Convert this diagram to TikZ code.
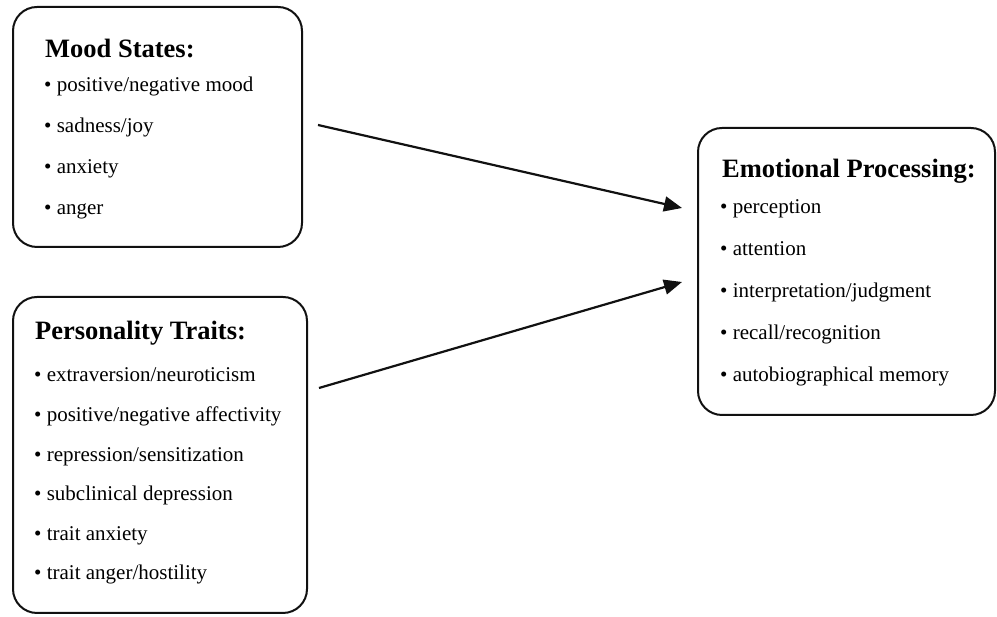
\documentclass[tikz,border=0pt]{standalone}
\usepackage{fontspec}
\setmainfont{Liberation Serif}
\usetikzlibrary{arrows.meta,positioning,calc}
\definecolor{ink}{HTML}{111111}

\begin{document}
\begin{tikzpicture}[x=1pt,y=1pt,
 panel/.style={draw=ink,line width=2pt,rounded corners=24pt,inner sep=0pt},
 heading/.style={anchor=base west,inner sep=0pt,font=\fontsize{26.5}{30}\selectfont\bfseries},
 entry/.style={anchor=base west,inner sep=0pt,font=\fontsize{21}{25}\selectfont},
 link/.style={draw=ink,line width=2.2pt,-{Triangle[length=18pt,width=15pt]}}]
 \useasboundingbox (0,0) rectangle (997,617);
 % the three boxes
 \node[panel,minimum width=289pt,minimum height=240pt] (mood) at (157.5,490) {};
 \node[panel,minimum width=294pt,minimum height=316pt] (pers) at (160,162) {};
 \node[panel,minimum width=297pt,minimum height=287pt] (emo) at (846.5,345.5) {};
 % headings
 \node[heading] (moodhead) at (45,559) {Mood States:};
 \node[heading] (pershead) at (35,277) {Personality Traits:};
 \node[heading] (emohead) at (722,439) {Emotional Processing:};
 % bullet lists
 \foreach \txt [count=\k] in {positive/negative mood,sadness/joy,anxiety,anger}{
  \node[entry] (mood\k) at (44,525-40.7*\k+40.7) {\textbullet\ \txt};
 }
 \foreach \txt [count=\k] in {extraversion/neuroticism,positive/negative affectivity,
  repression/sensitization,subclinical depression,trait anxiety,trait anger/hostility}{
  \node[entry] (pers\k) at (34,235-39.6*\k+39.6) {\textbullet\ \txt};
 }
 \foreach \txt [count=\k] in {perception,attention,interpretation/judgment,
  recall/recognition,autobiographical memory}{
  \node[entry] (emo\k) at (720,403-42*\k+42) {\textbullet\ \txt};
 }
 % arrows
 \draw[link] ([xshift=15pt,yshift=2pt]mood.east) -- ([xshift=-15pt,yshift=63.5pt]emo.west);
 \draw[link] ([xshift=11pt,yshift=67pt]pers.east) -- ([xshift=-15pt,yshift=-10.5pt]emo.west);
\end{tikzpicture}
\end{document}
